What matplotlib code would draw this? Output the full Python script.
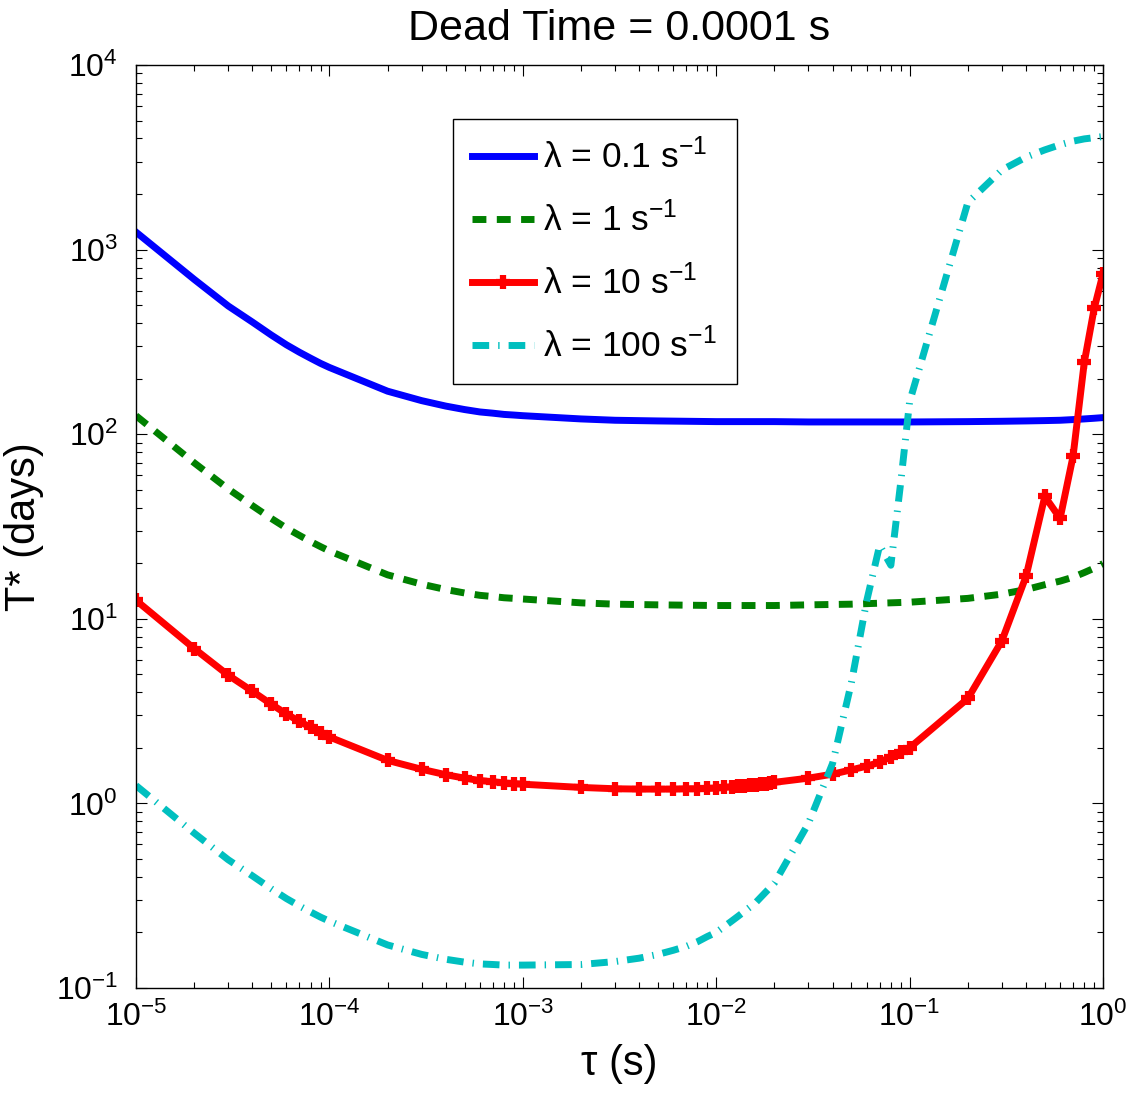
import matplotlib
matplotlib.use('Agg')
import matplotlib.pyplot as plt
from matplotlib.ticker import LogLocator, NullFormatter

plt.rcParams['font.family'] = ['Liberation Sans', 'DejaVu Sans']
plt.rcParams['mathtext.fontset'] = 'custom'
plt.rcParams['mathtext.rm'] = 'Liberation Sans'
plt.rcParams['mathtext.it'] = 'Liberation Sans:italic'
plt.rcParams['mathtext.default'] = 'regular'

# tau grid used for the marked (lambda = 10) and dash-dot (lambda = 100) curves
tau_grid = [1e-5, 2e-5, 3e-5, 4e-5, 5e-5, 6e-5, 7e-5, 8e-5, 9e-5,
            1e-4, 2e-4, 3e-4, 4e-4, 5e-4, 6e-4, 7e-4, 8e-4, 9e-4,
            1e-3, 2e-3, 3e-3, 4e-3, 5e-3, 6e-3, 7e-3, 8e-3, 9e-3,
            0.010, 0.011, 0.012, 0.013, 0.014, 0.015, 0.016, 0.017, 0.018, 0.019, 0.020,
            0.03, 0.04, 0.05, 0.06, 0.07, 0.08, 0.09,
            0.1, 0.2, 0.3, 0.4, 0.5, 0.6, 0.7, 0.8, 0.9, 1.0]

# coarser grid for the smooth curves
tau_smooth = [1e-5, 2e-5, 3e-5, 4e-5, 5e-5, 6e-5, 7e-5, 8e-5, 9e-5,
              1e-4, 2e-4, 3e-4, 4e-4, 5e-4, 6e-4, 7e-4, 8e-4, 9e-4,
              1e-3, 2e-3, 3e-3, 5e-3, 1e-2, 2e-2, 3e-2, 5e-2,
              0.1, 0.2, 0.3, 0.4, 0.5, 0.6, 0.7, 0.8, 0.9, 1.0]

t_lam01 = [1245, 690, 495, 405, 345, 305, 278, 258, 242,
           230, 171, 152, 142, 136, 132, 130, 128, 127,
           126, 121, 119, 118, 117, 117, 116.5, 116.5,
           116.5, 117, 117.5, 118, 118.5, 119, 120, 121, 122, 123]

t_lam1 = [126, 70, 50.5, 41, 35, 31, 28.3, 26.2, 24.6,
          23.3, 17.3, 15.4, 14.4, 13.8, 13.4, 13.2, 13.0, 12.9,
          12.8, 12.2, 12.0, 11.9, 11.8, 11.8, 11.9, 12.0,
          12.3, 12.9, 13.6, 14.4, 15.3, 16.0, 16.8, 17.8, 18.8, 19.9]

t_lam10 = [12.6, 6.9, 4.95, 4.05, 3.45, 3.05, 2.78, 2.58, 2.42,
           2.29, 1.71, 1.53, 1.43, 1.37, 1.33, 1.31, 1.29, 1.28,
           1.27, 1.22, 1.20, 1.195, 1.195, 1.195, 1.20, 1.20, 1.205,
           1.21, 1.22, 1.23, 1.24, 1.24, 1.25, 1.26, 1.27, 1.28, 1.29, 1.30,
           1.37, 1.44, 1.52, 1.59, 1.67, 1.79, 1.90,
           2.0, 3.7, 7.6, 17, 46, 35, 76, 245, 480, 740]

t_lam100 = [1.25, 0.69, 0.495, 0.405, 0.345, 0.305, 0.278, 0.258, 0.242,
            0.230, 0.171, 0.152, 0.143, 0.138, 0.135, 0.134, 0.133, 0.133,
            0.133, 0.134, 0.139, 0.145, 0.152, 0.160, 0.168, 0.178, 0.19,
            0.20, 0.215, 0.23, 0.245, 0.26, 0.275, 0.29, 0.31, 0.33, 0.35, 0.37,
            0.78, 1.65, 4.5, 12.5, 25, 19.5, 55,
            150, 1800, 2700, 3170, 3470, 3700, 3870, 3980, 4040, 4100]

labels = ['λ = 0.1 s$^{-1}$', 'λ = 1 s$^{-1}$', 'λ = 10 s$^{-1}$', 'λ = 100 s$^{-1}$']

fig = plt.figure(figsize=(11.32, 10.93), dpi=100)
ax = fig.add_axes([0.1201, 0.0961, 0.8543, 0.8444])

ax.plot(tau_smooth, t_lam01, color='#0000ff', lw=5, label=labels[0])
ax.plot(tau_smooth, t_lam1, color='#008000', lw=5, linestyle=(0, (2.0, 1.5)), label=labels[1])
ax.plot(tau_grid, t_lam10, color='#ff0000', lw=5, marker='+', ms=10, mew=4.5, label=labels[2])
ax.plot(tau_grid, t_lam100, color='#00bfbf', lw=5, linestyle=(0, (2.4, 1.3, 0.2, 1.3)), label=labels[3])

ax.set_xscale('log')
ax.set_yscale('log')
ax.set_xlim(1e-5, 1)
ax.set_ylim(1e-1, 1e4)

for axis in (ax.xaxis, ax.yaxis):
    axis.set_major_locator(LogLocator(base=10, numticks=20))
    axis.set_minor_locator(LogLocator(base=10, subs=range(2, 10), numticks=20))
    axis.set_minor_formatter(NullFormatter())

ax.tick_params(which='both', direction='in', top=True, right=True, width=0.8)
ax.tick_params(which='major', length=8, labelsize=23)
ax.tick_params(which='minor', length=4)
ax.tick_params(axis='x', which='major', pad=10)
ax.tick_params(axis='y', which='major', pad=13)
for s in ax.spines.values():
    s.set_linewidth(1.0)

ax.set_title('Dead Time = 0.0001 s', fontsize=31, pad=18)
ax.set_xlabel('τ (s)', fontsize=30, labelpad=8)
ax.set_ylabel('T* (days)', fontsize=30, labelpad=8)

leg = ax.legend(loc='upper left', bbox_to_anchor=(0.3278, 0.9415), borderaxespad=0,
                fontsize=25.5, handlelength=1.75, handletextpad=0.25, labelspacing=0.75,
                borderpad=0.55, fancybox=False, framealpha=1, edgecolor='black')
leg.get_frame().set_linewidth(1.0)

fig.savefig('out.png', dpi=100)
